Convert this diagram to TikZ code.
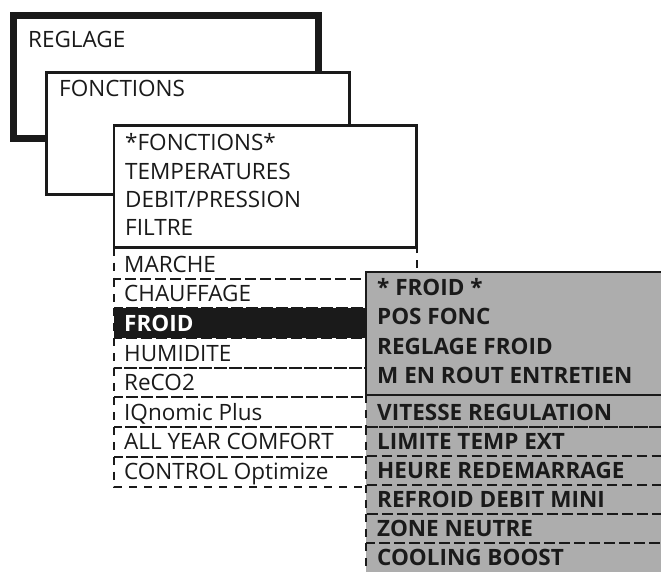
\documentclass[tikz,border=0pt]{standalone}
\usepackage{fontspec}
\setmainfont{Open Sans}
\usepackage{tikz}
\usetikzlibrary{positioning}
\usepackage{xcolor}

\definecolor{panelgray}{RGB}{173,173,173}
\definecolor{inkblack}{RGB}{26,26,26}

\begin{document}
\begin{tikzpicture}[x=1pt, y=-1pt,
    item/.style={anchor=base west, inner sep=0pt, text=inkblack, font=\fontsize{22.5}{27}\selectfont},
    bolditem/.style={item, font=\fontsize{22.5}{27}\selectfont\bfseries},
    dashrow/.style={draw=inkblack, line width=2pt, dash pattern=on 8pt off 7pt}]
        \useasboundingbox (0,0) rectangle (661,572);

        % Menu windows
        \draw[line width=7pt, draw=inkblack, fill=white] (13.7,15.5) rectangle (318,138.5);
        \node[item] (reglage) at (28,48) {REGLAGE};
        \draw[line width=2.5pt, draw=inkblack, fill=white] (46.5,72.5) rectangle (349.5,194.5);
        \node[item] (fonctions) at (59,97) {FONCTIONS};
        \draw[line width=2.5pt, draw=inkblack, fill=white] (114,125.5) rectangle (416.5,247.5);
        \node[item] (fonctionsstar) at (125,150.5) {*FONCTIONS*};
        \node[item] (temperatures) at (125,179.3) {TEMPERATURES};
        \node[item] (debit) at (125,207.7) {DEBIT/PRESSION};
        \node[item] (filtre) at (125,236) {FILTRE};

        % Function list
        \foreach \ya/\yb in {247.5/279, 279/308.3, 338.3/368.3, 368.3/397.3, 397.3/427.3, 427.3/456.7, 456.7/486.7}
            \draw[dashrow] (114,\ya) rectangle (416.5,\yb);
        \draw[dashrow, fill=inkblack] (114,308.3) rectangle (416.5,338.3);

        \node[item] (marche) at (124,272) {MARCHE};
        \node[item] (chauffage) at (124,301) {CHAUFFAGE};
        \node[bolditem, text=white] (froid) at (124,331) {FROID};
        \node[item] (humidite) at (124,361) {HUMIDITE};
        \node[item] (reco) at (124,390) {ReCO2};
        \node[item] (iqnomic) at (124,420) {IQnomic Plus};
        \node[item] (allyear) at (124,449.5) {ALL YEAR COMFORT};
        \node[item] (control) at (124,479) {CONTROL Optimize};

        % Cooling submenu
        \fill[panelgray] (366,395) rectangle (680,600);
        \foreach \ya/\yb in {395/426.7, 426.7/456, 456/485, 485/514, 514/543.3, 543.3/600}
            \draw[dashrow] (366,\ya) rectangle (680,\yb);
        \draw[line width=2pt, draw=inkblack, fill=panelgray] (366,271.7) rectangle (680,395);

        \node[bolditem] (froidstar) at (377,295) {* FROID *};
        \node[bolditem] (posfonc) at (377,324.5) {POS FONC};
        \node[bolditem] (reglagefroid) at (377,354) {REGLAGE FROID};
        \node[bolditem] (mrout) at (377,383) {M EN ROUT ENTRETIEN};
        \node[bolditem] (vitesse) at (377,420) {VITESSE REGULATION};
        \node[bolditem] (limite) at (377,449) {LIMITE TEMP EXT};
        \node[bolditem] (heure) at (377,478) {HEURE REDEMARRAGE};
        \node[bolditem] (refroid) at (377,507) {REFROID DEBIT MINI};
        \node[bolditem] (zone) at (377,536) {ZONE NEUTRE};
        \node[bolditem] (cooling) at (377,565) {COOLING BOOST};
\end{tikzpicture}
\end{document}
